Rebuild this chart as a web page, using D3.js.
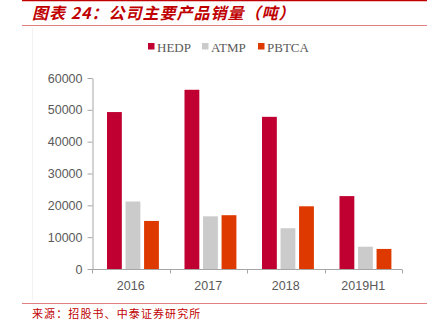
<!DOCTYPE html>
<html><head><meta charset="utf-8">
<script src="https://cdn.jsdelivr.net/npm/d3@7"></script>
<style>body{margin:0;background:#fff;}svg{display:block;}</style>
</head><body>
<svg id="c" width="427" height="330"></svg>
<script>
const categories = ["2016", "2017", "2018", "2019H1"];
const seriesNames = ["HEDP", "ATMP", "PBTCA"];
const hedp = [49300, 56300, 47800, 22900];
const atmp = [21200, 16550, 12800, 7000];
const pbtca = [15100, 16900, 19700, 6300];
const yTicks = [0, 10000, 20000, 30000, 40000, 50000, 60000];
const colors = ["#C00030", "#CBCBCB", "#DE3A00"];
const seriesValues = [hedp, atmp, pbtca];

const svg = d3.select("#c");
const red = "#C00000";

// frame lines
svg.append("line").attr("x1", 22).attr("x2", 427).attr("y1", 0.5).attr("y2", 0.5).attr("stroke", "#C00000").attr("stroke-width", 1.5);
svg.append("line").attr("x1", 22).attr("x2", 427).attr("y1", 25.5).attr("y2", 25.5).attr("stroke", "#E08080").attr("stroke-width", 1);
svg.append("line").attr("x1", 22).attr("x2", 427).attr("y1", 303.5).attr("y2", 303.5).attr("stroke", "#E08080").attr("stroke-width", 1);
svg.append("line").attr("x1", 32.5).attr("x2", 32.5).attr("y1", 28).attr("y2", 300).attr("stroke", "#F2F2F2").attr("stroke-width", 1);

// title
svg.append("text").attr("x", 32).attr("y", 19)
  .attr("font-family", "'Noto Sans CJK SC', sans-serif").attr("font-size", 16)
  .attr("font-style", "italic").attr("font-weight", "bold").attr("fill", red)
  .attr("letter-spacing", 1)
  .text("图表 24：公司主要产品销量（吨）");

// source
svg.append("text").attr("x", 32).attr("y", 318)
  .attr("font-family", "'Noto Sans CJK SC', sans-serif").attr("font-size", 11)
  .attr("fill", red).attr("letter-spacing", 1.1).text("来源：招股书、中泰证券研究所");

// scales
const x0 = d3.scaleBand().domain(categories).range([92, 402]).paddingInner(0).paddingOuter(0);
const x1 = d3.scaleBand().domain(seriesNames).range([15, 15 + 17.3 * 3]).paddingInner(0.2).paddingOuter(0);
const y = d3.scaleLinear().domain([0, 60000]).range([269, 78]);

// y axis
const yAxis = d3.axisLeft(y).tickValues(yTicks).tickSize(5).tickSizeOuter(0).tickFormat(d3.format("d"));
const gy = svg.append("g").attr("transform", "translate(92.5,0)").call(yAxis);
gy.select(".domain").attr("stroke", "#A6A6A6");
gy.selectAll(".tick line").attr("stroke", "#A6A6A6");
gy.selectAll(".tick text").attr("fill", "#595959").attr("font-family", "'Liberation Sans', Arial, sans-serif").attr("font-size", 12.5).attr("x", -10);

// bars
categories.forEach((c, i) => {
  seriesNames.forEach((s, j) => {
    const v = seriesValues[j][i];
    svg.append("rect")
      .attr("x", x0(c) + x1(s))
      .attr("y", y(v))
      .attr("width", x1.bandwidth())
      .attr("height", y(0) - y(v))
      .attr("fill", colors[j]);
  });
});

// x axis
const gx = svg.append("g").attr("transform", "translate(0,269.5)");
gx.append("line").attr("x1", 92).attr("x2", 402).attr("y1", 0).attr("y2", 0).attr("stroke", "#A6A6A6");
const bounds = [92].concat(categories.map(c => x0(c) + x0.bandwidth()));
bounds.forEach(b => {
  gx.append("line").attr("x1", Math.round(b) + 0.5).attr("x2", Math.round(b) + 0.5).attr("y1", 0).attr("y2", 4).attr("stroke", "#A6A6A6");
});
categories.forEach(c => {
  gx.append("text").attr("x", x0(c) + x0.bandwidth() / 2).attr("y", 20)
    .attr("text-anchor", "middle").attr("fill", "#595959")
    .attr("font-family", "'Liberation Sans', Arial, sans-serif").attr("font-size", 12.5).text(c);
});

// legend
const legendX = [148, 202, 258];
seriesNames.forEach((s, j) => {
  svg.append("rect").attr("x", legendX[j]).attr("y", 43).attr("width", 6.5).attr("height", 6.5).attr("fill", colors[j]);
  svg.append("text").attr("x", legendX[j] + 9).attr("y", 51.5)
    .attr("font-family", "'Liberation Serif', 'Times New Roman', serif").attr("font-size", 13)
    .attr("fill", "#595959").text(s);
});
</script>
</body></html>
